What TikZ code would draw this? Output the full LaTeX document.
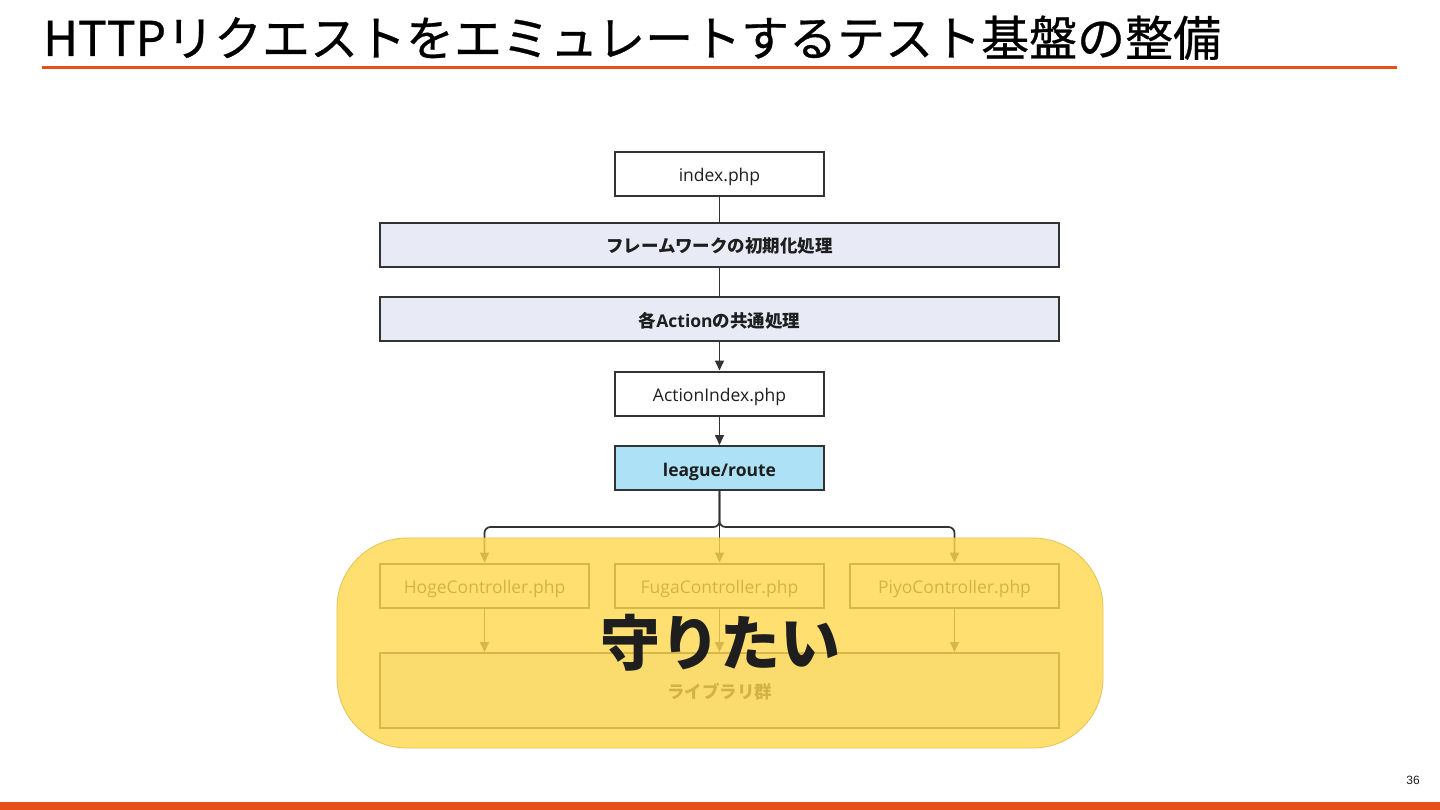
\documentclass[tikz,border=0pt]{standalone}
\usepackage{fontspec}
\setmainfont{Open Sans}
\newfontfamily\cjk{Noto Sans CJK JP}
\newfontfamily\cjktitle[FakeBold=0.6]{Noto Sans CJK JP}
\newfontfamily\numfont{Liberation Sans}
\usetikzlibrary{arrows.meta}
\definecolor{accent}{HTML}{E8501A}
\definecolor{edge}{HTML}{333333}
\definecolor{lav}{HTML}{E8EAF6}
\definecolor{lblue}{HTML}{ADE1F5}
\definecolor{ylw}{HTML}{FFD84D}
\definecolor{ylwedge}{HTML}{E3C355}
\definecolor{ink}{HTML}{1E1E1E}
\tikzset{
  box/.style={draw=edge, line width=2pt, inner sep=0pt, minimum height=44pt,
    text height=16pt, text depth=0pt,
    text=ink, font=\fontsize{17.5}{20}\selectfont},
  narrowbox/.style={box, minimum width=209pt, fill=white},
  widebox/.style={box, minimum width=679pt, fill=lav},
  boldlabel/.style={font=\fontsize{17.5}{20}\selectfont\bfseries},
  conn/.style={draw=edge, line width=1.7pt},
  arr/.style={conn, -{Triangle[length=10pt,width=9pt]}},
}
\begin{document}
\begin{tikzpicture}[x=1pt,y=-1pt]
\useasboundingbox (0,0) rectangle (1440,810);
\fill[white] (0,0) rectangle (1440,810);

% title
\node[anchor=base west, inner sep=0pt, text=black, font=\cjktitle\fontsize{48}{56}\selectfont] (title) at (43,56) {HTTPリクエストをエミュレートするテスト基盤の整備};
\draw[accent, line width=3pt] (42,68) -- (1397,68);
\fill[accent] (0,802) rectangle (1440,810);
\node[font=\numfont\fontsize{12}{14}\selectfont, text=ink] (page) at (1413,780) {36};

% boxes
\node[narrowbox] (idx) at (719.5,174) {index.php};
\node[widebox, font=\cjk\fontsize{17.5}{20}\selectfont\bfseries] (fw) at (719.5,245) {フレームワークの初期化処理};
\node[widebox, font=\fontsize{17.5}{20}\selectfont\bfseries] (common) at (719.5,319) {{\cjk\bfseries 各}Action{\cjk\bfseries の共通処理}};
\node[narrowbox] (aidx) at (719.5,393.5) {ActionIndex.php};
\node[narrowbox, fill=lblue, boldlabel] (route) at (719.5,468) {league/route};
\node[narrowbox] (hoge) at (484.5,585.5) {HogeController.php};
\node[narrowbox] (fuga) at (719.5,585.5) {FugaController.php};
\node[narrowbox] (piyo) at (954.5,585.5) {PiyoController.php};
\node[widebox, minimum height=75pt, font=\cjk\fontsize{17.5}{20}\selectfont\bfseries] (lib) at (719.5,690.5) {ライブラリ群};

% connectors
\draw[conn] (idx) -- (fw);
\draw[conn] (fw) -- (common);
\draw[arr] (common) -- (aidx);
\draw[arr] (aidx) -- (route);
\coordinate (br) at (719.5,527);
\draw[arr, rounded corners=6pt] (route.south) -- (br) -| (hoge.north);
\draw[arr] (route.south) -- (fuga.north);
\draw[arr, rounded corners=6pt] (route.south) -- (br) -| (piyo.north);
\draw[arr] (hoge.south) -- (hoge.south |- lib.north);
\draw[arr] (fuga.south) -- (fuga.south |- lib.north);
\draw[arr] (piyo.south) -- (piyo.south |- lib.north);

% overlay
\node[fill=ylw, fill opacity=0.8, draw=ylwedge, line width=0.8pt, rounded corners=70pt,
  minimum width=766pt, minimum height=210pt, inner sep=0pt] (guard) at (720,643) {};
\node[font=\cjk\fontsize{60}{70}\selectfont\bfseries, text=ink, inner sep=0pt] (keep) at (720,643) {守りたい};
\end{tikzpicture}
\end{document}
